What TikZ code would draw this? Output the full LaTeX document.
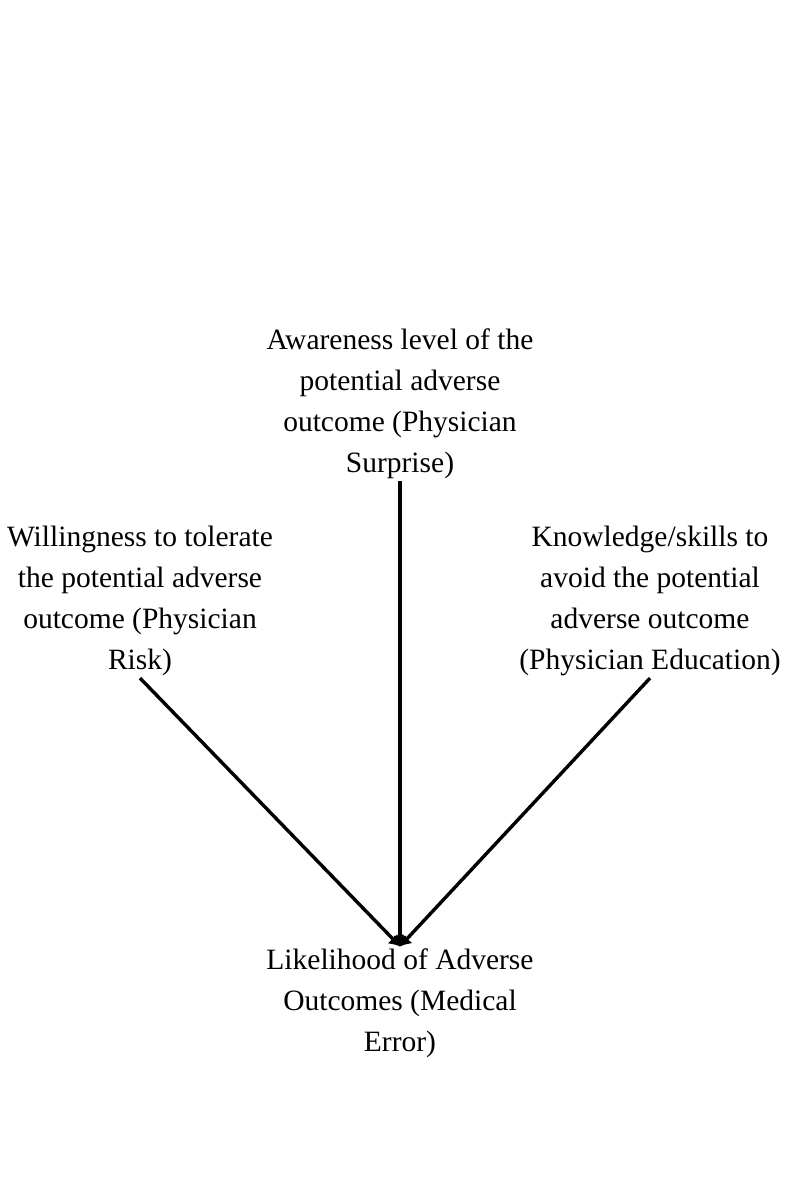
\documentclass[tikz,border=0pt]{standalone}
\usepackage{fontspec}
\setmainfont{Liberation Serif}
\usetikzlibrary{arrows.meta}
\begin{document}
\begin{tikzpicture}[x=1pt,y=-1pt,
  lbl/.style={align=center,inner sep=2pt,font=\fontsize{29.5}{41}\selectfont},
  arr/.style={line width=3.4pt,-{Latex[length=11pt,width=14pt]}}]
\useasboundingbox[fill=white] (0,0) rectangle (800,1200);
\node[lbl] (top) at (400,404) {Awareness level of the\\potential adverse\\outcome (Physician\\Surprise)};
\node[lbl] (left) at (140,601) {Willingness to tolerate\\the potential adverse\\outcome (Physician\\Risk)};
\node[lbl] (right) at (650,601) {Knowledge/skills to\\avoid the potential\\adverse outcome\\(Physician Education)};
\node[lbl] (bot) at (400,1003) {Likelihood of Adverse\\Outcomes (Medical\\Error)};
\draw[arr,shorten >=-0.5pt] (top.south) -- (bot.north);
\draw[arr,shorten >=-0.5pt] (left.south) -- (bot.north);
\draw[arr,shorten >=-0.5pt] (right.south) -- (bot.north);
\end{tikzpicture}
\end{document}
